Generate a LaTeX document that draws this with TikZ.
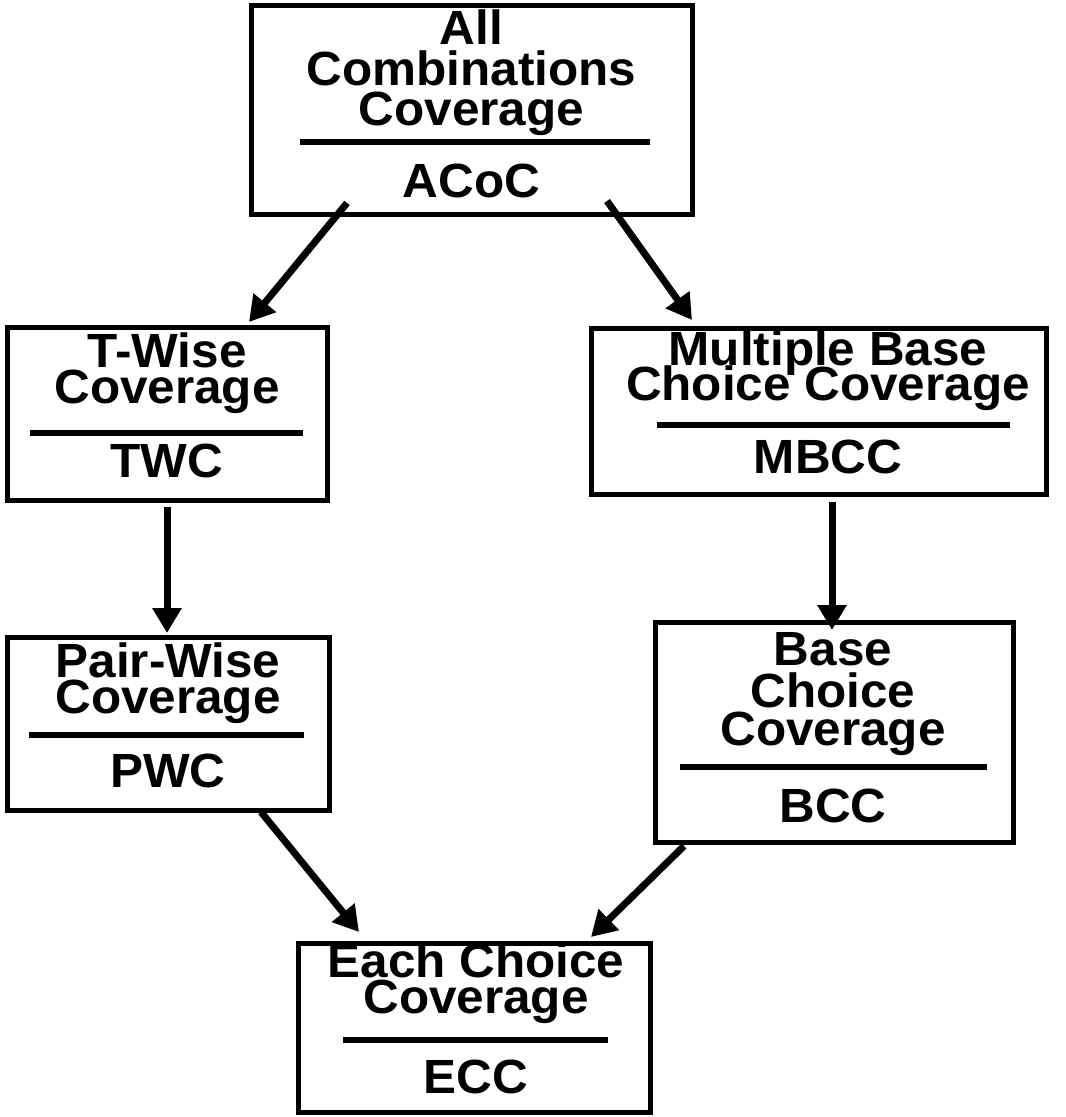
\documentclass[tikz,border=0pt]{standalone}
\usepackage{fontspec}
\setmainfont{Liberation Sans}[FakeStretch=1.03]
\usetikzlibrary{arrows.meta,calc}
\tikzset{
  box/.style={draw=black, line width=5pt, inner sep=0pt, outer sep=0pt, anchor=north west},
  lbl/.style={font=\fontsize{48}{48}\selectfont\bfseries, inner sep=0pt, anchor=base},
  rulebar/.style={line width=5.5pt},
  arr/.style={line width=7pt, -{Triangle[length=25pt,width=28pt]}}
}
\begin{document}
\begin{tikzpicture}[x=1pt,y=-1pt]
\path[fill=white,use as bounding box] (0,0) rectangle (1066,1117);

% boxes
\node[box, minimum width=441pt, minimum height=209pt] (acoc) at (251,5) {};
\node[box, minimum width=320pt, minimum height=173pt] (twc) at (7,327) {};
\node[box, minimum width=455pt, minimum height=166pt] (mbcc) at (591,328) {};
\node[box, minimum width=322pt, minimum height=173pt] (pwc) at (7,637) {};
\node[box, minimum width=358pt, minimum height=220pt] (bcc) at (655,622) {};
\node[box, minimum width=352pt, minimum height=169pt] (ecc) at (298,943) {};

% ACoC
\node[lbl] (acoc1) at (471.5,44) {All};
\node[lbl] (acoc2) at (471.5,85) {Combinations};
\node[lbl] (acoc3) at (471.5,125) {Coverage};
\draw[rulebar] (300,142) -- (650,142);
\node[lbl] (acoc4) at (471.5,197) {ACoC};

% TWC
\node[lbl] (twc1) at (167,367) {T-Wise};
\node[lbl] (twc2) at (167,403) {Coverage};
\draw[rulebar] (30,433) -- (303,433);
\node[lbl] (twc3) at (167,477) {TWC};

% MBCC
\node[lbl] (mbcc1) at (828,365) {Multiple Base};
\node[lbl] (mbcc2) at (828,400) {Choice Coverage};
\draw[rulebar] (657,425) -- (1010,425);
\node[lbl] (mbcc3) at (828,473) {MBCC};

% PWC
\node[lbl] (pwc1) at (168,677) {Pair-Wise};
\node[lbl] (pwc2) at (168,713) {Coverage};
\draw[rulebar] (29,735) -- (304,735);
\node[lbl] (pwc3) at (168,787) {PWC};

% BCC
\node[lbl] (bcc1) at (833,665) {Base};
\node[lbl] (bcc2) at (833,707) {Choice};
\node[lbl] (bcc3) at (833,745) {Coverage};
\draw[rulebar] (680,767) -- (987,767);
\node[lbl] (bcc4) at (833,822) {BCC};

% ECC
\node[lbl] (ecc1) at (476,977) {Each Choice};
\node[lbl] (ecc2) at (476,1013) {Coverage};
\draw[rulebar] (343,1040) -- (608,1040);
\node[lbl] (ecc3) at (476,1093) {ECC};

% arrows
\draw[arr] ($(acoc.south)+(-124.5,-11)$) -- ($(twc.north)+(82,-5)$);
\draw[arr] ($(acoc.south)+(135.5,-13)$) -- ($(mbcc.north)+(-126.5,-8)$);
\draw[arr] ($(twc.south)+(0,7)$) -- ($(pwc.north)+(-1,-4)$);
\draw[arr] ($(mbcc.south)+(13.5,8)$) -- ($(bcc.north)+(-2,8)$);
\draw[arr] ($(pwc.south)+(93,2)$) -- ($(ecc.north)+(-115,-11)$);
\draw[arr] ($(bcc.south)+(-150,4)$) -- ($(ecc.north)+(117,-6)$);
\end{tikzpicture}
\end{document}
